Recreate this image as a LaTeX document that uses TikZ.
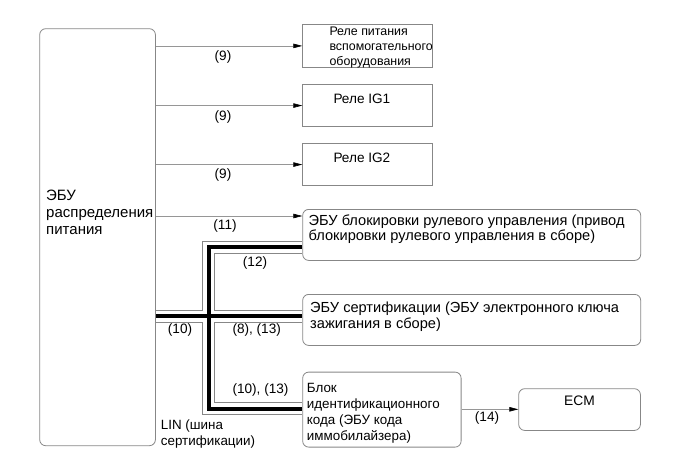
\documentclass[tikz,border=0pt]{standalone}
\usepackage{fontspec}
\setmainfont{Liberation Sans}
\usetikzlibrary{positioning, arrows.meta, calc, backgrounds}
\definecolor{edgegray}{RGB}{135, 135, 135}
\definecolor{wiregray}{RGB}{150, 150, 150}

\begin{document}
\begin{tikzpicture}[x=1pt, y=-1pt,
      box/.style={draw=edgegray, line width=0.8pt, anchor=north west, inner sep=0pt},
      rbox/.style={box, rounded corners=6pt},
      txt/.style={anchor=north west, align=left, inner sep=0pt, font=\fontsize{13}{15.5}\selectfont},
      big/.style={font=\fontsize{14.6}{15.2}\selectfont},
      lbl/.style={inner sep=0pt, font=\fontsize{13.6}{15.5}\selectfont},
      arr/.style={-{Triangle[length=9pt, width=4.5pt, color=black]}, line width=0.6pt, color=wiregray}]
    \useasboundingbox (0,0) rectangle (690,467);
    % blocks
    \node[rbox, minimum width=115.7pt, minimum height=417pt] (ecu) at (39.3,28.3) {};
    \node[box, minimum width=130pt, minimum height=42.4pt] (aux) at (302.3,24.3) {};
    \node[box, minimum width=130pt, minimum height=41.7pt] (ig1) at (302.3,84.3) {};
    \node[box, minimum width=130pt, minimum height=41.7pt] (ig2) at (302.3,143.3) {};
    \node[rbox, minimum width=338pt, minimum height=51pt] (steer) at (302.3,209) {};
    \node[rbox, minimum width=338pt, minimum height=51pt] (cert) at (302.3,294) {};
    \node[rbox, minimum width=158.4pt, minimum height=75pt] (immo) at (302.3,371.7) {};
    \node[rbox, minimum width=121.7pt, minimum height=41.7pt] (ecm) at (518.3,388.3) {};
    % texts of the blocks
    \node[txt, below right=162pt and 6.7pt of ecu.north west, font=\fontsize{15}{17}\selectfont] (ecutxt) {ЭБУ\\распределения\\питания};
    \node[txt, below right=2.4pt and 27pt of aux.north west, font=\fontsize{12.4}{15}\selectfont] (auxtxt) {Реле питания\\вспомогательного\\оборудования};
    \node[txt, below right=9pt and 31pt of ig1.north west, font=\fontsize{13.6}{15.5}\selectfont] (ig1txt) {Реле IG1};
    \node[txt, below right=9.4pt and 31pt of ig2.north west, font=\fontsize{13.6}{15.5}\selectfont] (ig2txt) {Реле IG2};
    \node[txt, big, below right=5.5pt and 6.2pt of steer.north west] (steertxt) {ЭБУ блокировки рулевого управления (привод\\блокировки рулевого управления в сборе)};
    \node[txt, big, below right=8.2pt and 7.7pt of cert.north west] (certtxt) {ЭБУ сертификации (ЭБУ электронного ключа\\зажигания в сборе)};
    \node[txt, below right=11.6pt and 4.4pt of immo.north west, font=\fontsize{13.4}{15.8}\selectfont] (immotxt) {Блок\\идентификационного\\кода (ЭБУ кода\\иммобилайзера)};
    \node[txt, anchor=north, below=7.7pt of ecm.north, font=\fontsize{13.8}{15.5}\selectfont] (ecmtxt) {ECM};
    % LIN bus
    \begin{scope}[on background layer]
      \foreach \w/\c in {13pt/edgegray, 11pt/white, 4pt/black} {
        \draw[line width=\w, color=\c] (ecu.east |- 0,316) -- (cert.west |- 0,316);
        \draw[line width=\w, color=\c] (steer.west |- 0,247) -- (208.5,247) -- (208.5,408.5) -- (immo.west |- 0,408.5);
      }
    \end{scope}
    % signal lines
    \draw[arr] (ecu.east |- aux.west) -- (aux.west);
    \draw[arr] (ecu.east |- ig1.west) -- (ig1.west);
    \draw[arr] (ecu.east |- ig2.west) -- (ig2.west);
    \draw[arr] (ecu.east |- 0,216) -- (steer.west |- 0,216);
    \draw[arr] (immo.east |- 0,409.3) -- (ecm.west |- 0,409.3);
    % labels
    \node[lbl] (l9a) at (223,56.7) {(9)};
    \node[lbl] (l9b) at (223,116.7) {(9)};
    \node[lbl] (l9c) at (223,174.7) {(9)};
    \node[lbl] (l11) at (225,225.7) {(11)};
    \node[lbl] (l12) at (255,262.5) {(12)};
    \node[lbl] (l10) at (180,330) {(10)};
    \node[lbl] (l813) at (256.7,330) {(8), (13)};
    \node[lbl] (l1013) at (260.5,389.5) {(10), (13)};
    \node[lbl] (l14) at (487,418.3) {(14)};
    \node[txt, font=\fontsize{13.4}{15.5}\selectfont] (lin) at (160.7,420) {LIN (шина\\сертификации)};
  \end{tikzpicture}
\end{document}
